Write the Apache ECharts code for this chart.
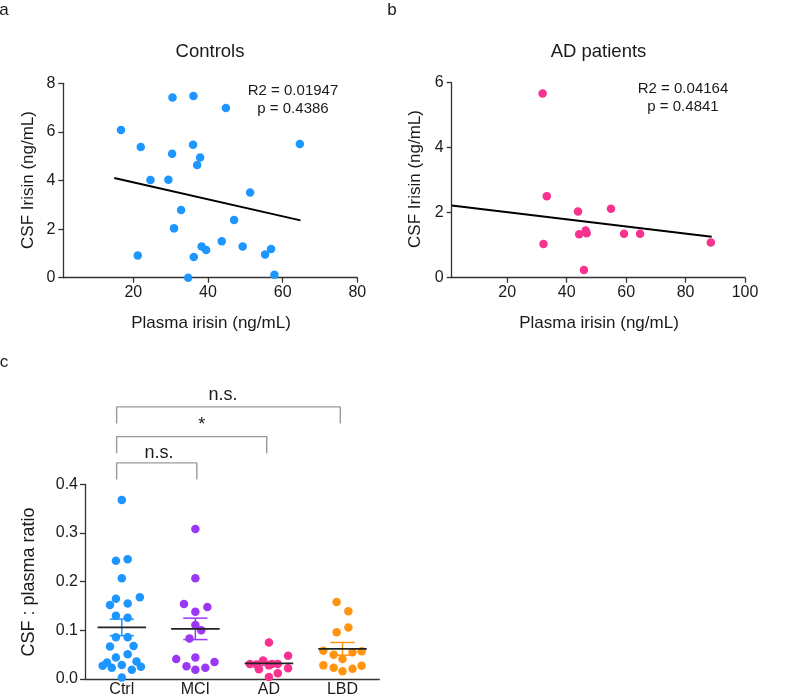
<!DOCTYPE html>
<html>
<head>
<meta charset="utf-8">
<script src="https://cdn.jsdelivr.net/npm/echarts@6/dist/echarts.min.js"></script>
<style>html,body{margin:0;padding:0;background:#fff}#c{width:800px;height:698px}</style>
</head>
<body>
<div id="c"></div>
<script>
// ---------- Data ----------
// Panel a: Controls
const ctrlPlasma = [16.7,22.0,21.2,24.6,29.4,30.5,30.4,30.9,32.8,34.7,36.1,36.0,36.2,37.9,37.1,38.3,39.5,43.7,44.8,47.0,49.3,51.3,55.3,56.9,57.8,64.6];
const ctrlCsf    = [6.08,5.38,0.91,4.02,4.03,7.42,5.10,2.03,2.79,0.0,7.48,5.47,0.85,4.95,4.64,1.28,1.14,1.50,6.98,2.37,1.28,3.51,0.95,1.18,0.12,5.50];
const ctrlFitX = [14.9, 64.8];
const ctrlFitY = [4.10, 2.36];
// Panel b: AD patients
const adPlasma = [31.9,33.3,32.2,43.8,44.2,46.4,46.7,45.8,54.9,59.3,64.7,88.5];
const adCsf    = [5.67,2.51,1.04,2.04,1.34,1.45,1.37,0.24,2.12,1.35,1.35,1.08];
const adFitX = [1.3, 88.8];
const adFitY = [2.22, 1.26];
const xTicksA = [20,40,60,80];
const xTicksB = [20,40,60,80,100];
// Panel c: CSF:plasma ratio
const groups = ['Ctrl','MCI','AD','LBD'];
const ratioCtrl = [0.368,0.243,0.246,0.207,0.165,0.168,0.152,0.155,0.130,0.126,0.086,0.086,0.067,0.068,0.044,0.051,0.034,0.036,0.027,0.023,0.029,0.019,0.025,0.003];
const ratioMCI  = [0.308,0.207,0.154,0.148,0.138,0.111,0.100,0.083,0.041,0.044,0.035,0.026,0.019,0.023];
const ratioAD   = [0.075,0.048,0.038,0.031,0.030,0.031,0.028,0.020,0.022,0.012,0.004,0.031];
const ratioLBD  = [0.158,0.139,0.106,0.096,0.058,0.050,0.041,0.055,0.057,0.028,0.023,0.016,0.021,0.027];
// horizontal scatter jitter (fraction of category width)
const jitterCtrl = [0,-0.08,0.08,0,-0.08,0.245,-0.16,0.08,-0.08,0.08,-0.08,0.08,-0.16,0.16,-0.08,0.08,-0.2,0.2,-0.26,-0.136,0,0.136,0.26,0];
const jitterMCI  = [0,0,-0.155,0.163,0,0,0.08,-0.08,-0.26,0,0.26,-0.12,0,0.136];
const jitterAD   = [0,0.26,-0.08,-0.26,-0.17,0.04,0,-0.136,0.26,0.12,0,0.12];
const jitterLBD  = [-0.08,0.08,0.08,-0.08,-0.26,-0.12,0,0.136,0.26,-0.26,-0.12,0,0.136,0.26];
const groupMean = [0.106,0.103,0.032,0.062];
const groupSem  = [0.017,0.022,0.004,0.013];
const yTicksC = [0,0.1,0.2,0.3,0.4];
// significance brackets
const bracketFrom = [1,1,1];
const bracketTo   = [2,3,4];
const bracketLevel = [0.444,0.498,0.559];
const bracketText  = ['n.s.','*','n.s.'];

// ---------- Styles ----------
const FONT = '"Liberation Sans", Arial, Helvetica, sans-serif';
const TXT = '#1a1a1a';
const AX = '#333';
const BLUE = '#1E96FF', PINK = '#F7338F', PURPLE = '#9A38F5', ORANGE = '#FF9410';
const groupColors = [BLUE, PURPLE, PINK, ORANGE];

const chart = echarts.init(document.getElementById('c'), null, {renderer:'canvas'});

function valAxis(idx, min, max, extra) {
  return Object.assign({
    type:'value', gridIndex: idx, min, max,
    splitLine:{show:false},
    axisLine:{show:true, onZero:false, lineStyle:{color:AX, width:1.3}},
    axisTick:{show:true, length:5, lineStyle:{color:AX, width:1.3}},
    axisLabel:{color:TXT, fontSize:16, fontFamily:FONT}
  }, extra || {});
}

const zip = (a,b) => a.map((v,i)=>[v,b[i]]);
const ratios = [ratioCtrl, ratioMCI, ratioAD, ratioLBD];
const jitters = [jitterCtrl, jitterMCI, jitterAD, jitterLBD];

const series = [];
series.push({type:'scatter', xAxisIndex:0, yAxisIndex:0, data: zip(ctrlPlasma, ctrlCsf), symbolSize:8.5, itemStyle:{color:BLUE, opacity:1}, clip:false, z:3});
series.push({type:'line', xAxisIndex:0, yAxisIndex:0, data: zip(ctrlFitX, ctrlFitY), symbol:'none', lineStyle:{color:'#000', width:2}, z:4});
series.push({type:'scatter', xAxisIndex:1, yAxisIndex:1, data: zip(adPlasma, adCsf), symbolSize:8.5, itemStyle:{color:PINK, opacity:1}, clip:false, z:3});
series.push({type:'line', xAxisIndex:1, yAxisIndex:1, data: zip(adFitX, adFitY), symbol:'none', lineStyle:{color:'#000', width:2}, z:4});

ratios.forEach((arr, gi) => {
  series.push({
    type:'scatter', xAxisIndex:2, yAxisIndex:2,
    data: arr.map((v,i)=>[gi+1+jitters[gi][i], v]),
    symbolSize:8.5, itemStyle:{color:groupColors[gi], opacity:1}, clip:false, z:3
  });
});

series.push({
  type:'custom', xAxisIndex:2, yAxisIndex:2, z:5, clip:false,
  data: groups.map((g,i)=>[i+1, groupMean[i], groupSem[i]]),
  renderItem: function(params, api){
    const x = api.value(0), m = api.value(1), s = api.value(2);
    const i = params.dataIndex;
    const c = api.coord([x, m]);
    const top = api.coord([x, m + s]);
    const bot = api.coord([x, m - s]);
    const w = api.size([1, 0])[0];
    const half = w * 0.33, cap = w * 0.165;
    const col = groupColors[i];
    const st = {stroke: col, lineWidth: 1.5};
    return {type:'group', children:[
      {type:'line', shape:{x1:c[0], y1:top[1], x2:c[0], y2:bot[1]}, style:st},
      {type:'line', shape:{x1:c[0]-cap, y1:top[1], x2:c[0]+cap, y2:top[1]}, style:st},
      {type:'line', shape:{x1:c[0]-cap, y1:bot[1], x2:c[0]+cap, y2:bot[1]}, style:st},
      {type:'line', shape:{x1:c[0]-half, y1:c[1], x2:c[0]+half, y2:c[1]}, style:{stroke:'#222', lineWidth:1.8}}
    ]};
  }
});

bracketFrom.forEach((f, i) => {
  const t = bracketTo[i];
  const lv = bracketLevel[i];
  const drop = 0.034;
  const x1 = f - 0.07, x2 = t + (t === 2 ? 0.02 : -0.03);
  series.push({
    type:'line', xAxisIndex:2, yAxisIndex:2, clip:false, symbol:'none', silent:true,
    data:[[x1, lv-drop],[x1, lv],[x2, lv],[x2, lv-drop]],
    lineStyle:{color:'#9a9a9a', width:1.4}, z:2
  });
});

function txt(text, x, y, size, rot) {
  return {type:'text', x, y, rotation: rot || 0, silent:true,
    style:{text, fill:TXT, fontSize:size, fontFamily:FONT, align:'center', verticalAlign:'middle'}};
}

const option = {
  animation:false,
  backgroundColor:'#fff',
  grid:[
    {left:63.3, top:83.3, width:294, height:194.4},
    {left:451.7, top:82.7, width:293.3, height:195},
    {left:85, top:484.3, width:294.3, height:195}
  ],
  xAxis:[
    valAxis(0, 1.25, 80, {axisLabel:{color:TXT, fontSize:16, fontFamily:FONT, margin:7, customValues:xTicksA}, axisTick:{show:true, length:5, lineStyle:{color:AX,width:1.3}, customValues:xTicksA}}),
    valAxis(1, 1.3, 100, {axisLabel:{color:TXT, fontSize:16, fontFamily:FONT, margin:7, customValues:xTicksB}, axisTick:{show:true, length:5, lineStyle:{color:AX,width:1.3}, customValues:xTicksB}}),
    valAxis(2, 0.5, 4.5, {
      axisLabel:{color:TXT, fontSize:16, fontFamily:FONT, margin:3, customValues:[1,2,3,4], formatter: v => groups[Math.round(v)-1] || ''},
      axisTick:{show:false}
    })
  ],
  yAxis:[
    valAxis(0, 0, 8, {interval:2, axisLabel:{color:TXT, fontSize:16, fontFamily:FONT, margin:8}}),
    valAxis(1, 0, 6, {interval:2, axisLabel:{color:TXT, fontSize:16, fontFamily:FONT, margin:8}}),
    valAxis(2, 0, 0.4, {interval:0.1, axisLabel:{color:TXT, fontSize:16, fontFamily:FONT, margin:7, formatter: v => v.toFixed(1)}})
  ],
  graphic:[
    txt('a', 4, 10, 17),
    txt('b', 392, 10, 17),
    txt('c', 4, 362, 17),
    txt('Controls', 210, 52, 18.5),
    txt('AD patients', 598.5, 52, 18.5),
    txt('CSF Irisin (ng/mL)', 28, 180, 17, Math.PI/2),
    txt('CSF Irisin (ng/mL)', 415, 179, 17, Math.PI/2),
    txt('Plasma irisin (ng/mL)', 211, 323, 17),
    txt('Plasma irisin (ng/mL)', 599, 323, 17),
    txt('R2 = 0.01947', 293, 91, 15),
    txt('p = 0.4386', 293, 109, 15),
    txt('R2 = 0.04164', 683, 89.3, 15),
    txt('p = 0.4841', 683, 107.3, 15),
    txt('CSF : plasma ratio', 29, 582, 18, Math.PI/2),
    txt(bracketText[2], 223, 395, 18),
    txt(bracketText[1], 201.7, 425, 18),
    txt(bracketText[0], 159, 453, 18)
  ],
  series
};
chart.setOption(option);
</script>
</body>
</html>
